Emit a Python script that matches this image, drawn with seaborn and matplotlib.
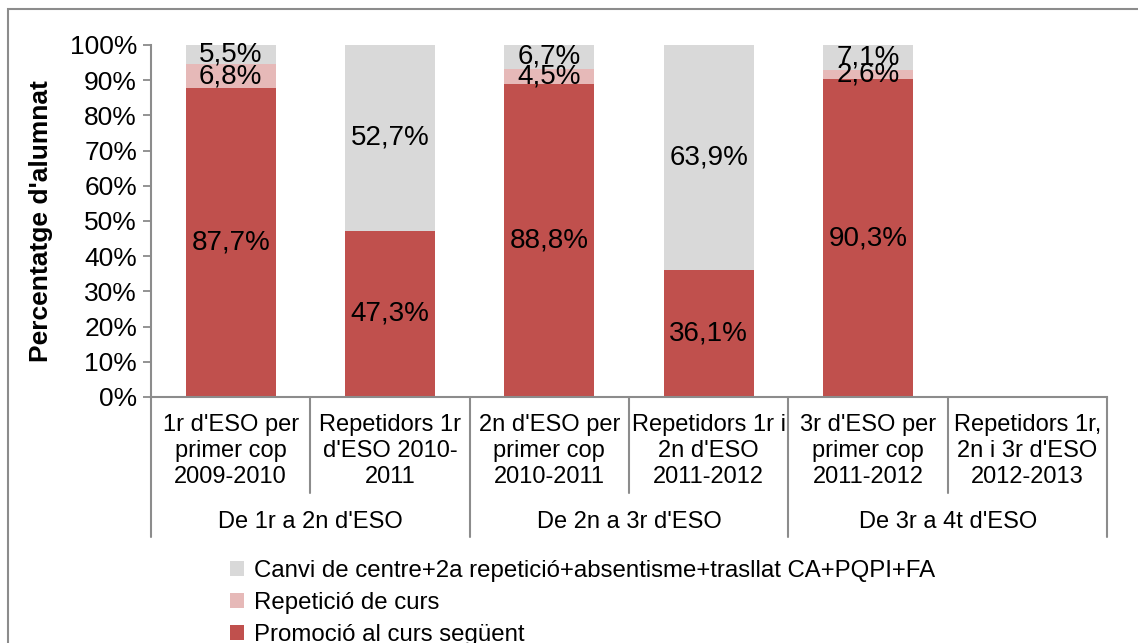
import matplotlib
matplotlib.use("Agg")
import matplotlib.pyplot as plt
import matplotlib.transforms as mtransforms
from matplotlib.patches import Patch, Rectangle
from matplotlib.lines import Line2D
import seaborn as sns
import pandas as pd
import numpy as np

categories = ["1r d'ESO per\nprimer cop\n2009-2010",
              "Repetidors 1r\nd'ESO 2010-\n2011",
              "2n d'ESO per\nprimer cop\n2010-2011",
              "Repetidors 1r i\n2n d'ESO\n2011-2012",
              "3r d'ESO per\nprimer cop\n2011-2012",
              "Repetidors 1r,\n2n i 3r d'ESO\n2012-2013"]
groups = ["De 1r a 2n d'ESO", "De 2n a 3r d'ESO", "De 3r a 4t d'ESO"]
promocio = [87.7, 47.3, 88.8, 36.1, 90.3, 0.0]
repeticio = [6.8, 0.0, 4.5, 0.0, 2.6, 0.0]
canvi = [5.5, 52.7, 6.7, 63.9, 7.1, 0.0]
series_names = ["Canvi de centre+2a repetició+absentisme+trasllat CA+PQPI+FA",
                "Repetició de curs",
                "Promoció al curs següent"]
colors = ["#D9D9D9", "#E6B9B8", "#C0504D"]
yticks = [0, 10, 20, 30, 40, 50, 60, 70, 80, 90, 100]

sns.set_style("white")
plt.rcParams['font.family'] = ['Liberation Sans', 'DejaVu Sans']
plt.rcParams['text.color'] = 'black'
plt.rcParams['axes.labelcolor'] = 'black'
plt.rcParams['ytick.labelcolor'] = 'black'

W, H = 1138, 643
fig = plt.figure(figsize=(W / 100, H / 100), dpi=100)
ax = fig.add_axes([151 / W, (H - 397) / H, (1107 - 151) / W, (397 - 45) / H])

df = pd.DataFrame({"cat": categories,
                   "promocio": promocio,
                   "repeticio": repeticio,
                   "canvi": canvi})
df["cum2"] = df["promocio"] + df["repeticio"]
df["cum3"] = df["cum2"] + df["canvi"]

bw = 0.565
for col, c in zip(["cum3", "cum2", "promocio"], colors):
    sns.barplot(data=df, x="cat", y=col, color=c, saturation=1, width=bw, ax=ax,
                order=categories, linewidth=0)

ax.set_xlim(-0.5, len(categories) - 0.5)
ax.set_ylim(0, 100)
ax.set_yticks(yticks)
fs_tick = 19
fs_data = 20
fs_cat = 17
ax.set_yticklabels([f"{v}%" for v in yticks], fontsize=fs_tick)
ax.set_xticks([])
ax.set_xlabel("")
ax.set_ylabel("Percentatge d'alumnat", fontsize=fs_tick, fontweight="bold", labelpad=12)
ax.tick_params(axis="y", direction="out", length=6, width=1.2, color="#808080", pad=4, left=True)
for s in ["top", "right"]:
    ax.spines[s].set_visible(False)
for s in ["left", "bottom"]:
    ax.spines[s].set_color("#8c8c8c")
    ax.spines[s].set_linewidth(1.5)

# data labels
for i in range(len(categories)):
    segs = [(0, promocio[i]), (promocio[i], repeticio[i]), (promocio[i] + repeticio[i], canvi[i])]
    for b, v in segs:
        if v > 0:
            ax.text(i, b + v / 2, f"{v:.1f}%".replace(".", ","), ha="center", va="center", fontsize=fs_data)

# multi-level category axis
trans = mtransforms.blended_transform_factory(ax.transData, ax.transAxes)
ypx = 397 - 45
def yax(py):
    return (397 - py) / ypx
for i, c in enumerate(categories):
    ax.text(i, yax(451), c, transform=trans, ha="center", va="center", fontsize=fs_cat, linespacing=1.22)
for g, name in enumerate(groups):
    ax.text(2 * g + 0.5, yax(522), name, transform=trans, ha="center", va="center", fontsize=fs_cat)
for k in range(len(categories) + 1):
    x = k - 0.5
    bottom = yax(537) if k % 2 == 0 else yax(493)
    ax.add_line(Line2D([x, x], [0, bottom], transform=trans, color="#8c8c8c", lw=1.5, clip_on=False))

# legend
handles = [Patch(facecolor=c, edgecolor="none") for c in colors]
fig.legend(handles, series_names, loc="upper left", bbox_to_anchor=(230 / W, (H - 560) / H),
           frameon=False, fontsize=17.3, handlelength=0.6, handleheight=0.6, handletextpad=0.4,
           labelspacing=0.42, borderpad=0, borderaxespad=0)

# figure border (top & left visible)
fig.patches.append(Rectangle((8 / W, -0.1), 1.2, (H - 9) / H + 0.1, transform=fig.transFigure,
                             fill=False, edgecolor="#8c8c8c", lw=1.5))

fig.savefig("out.png", dpi=100)
